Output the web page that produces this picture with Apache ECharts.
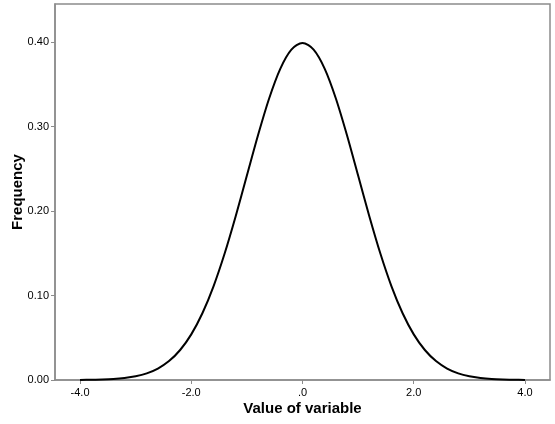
<!DOCTYPE html>
<html>
<head>
<meta charset="utf-8">
<script src="https://cdn.jsdelivr.net/npm/echarts@6/dist/echarts.min.js"></script>
<style>
html,body{margin:0;padding:0;background:#fff;}
#c{width:555px;height:424px;}
</style>
</head>
<body>
<div id="c"></div>
<script>
const xValues = [-4.0,-3.8,-3.6,-3.4,-3.2,-3.0,-2.8,-2.6,-2.4,-2.2,-2.0,-1.8,-1.6,-1.4,-1.2,-1.0,-0.8,-0.6,-0.4,-0.2,0.0,0.2,0.4,0.6,0.8,1.0,1.2,1.4,1.6,1.8,2.0,2.2,2.4,2.6,2.8,3.0,3.2,3.4,3.6,3.8,4.0];
const frequency = [0.0001,0.0003,0.0006,0.0012,0.0024,0.0044,0.0079,0.0136,0.0224,0.0355,0.0540,0.0790,0.1109,0.1497,0.1942,0.2420,0.2897,0.3332,0.3683,0.3910,0.3989,0.3910,0.3683,0.3332,0.2897,0.2420,0.1942,0.1497,0.1109,0.0790,0.0540,0.0355,0.0224,0.0136,0.0079,0.0044,0.0024,0.0012,0.0006,0.0003,0.0001];
const xTicks = [-4, -2, 0, 2, 4];
const xTickLabels = ['-4.0', '-2.0', '.0', '2.0', '4.0'];
const yTicks = [0, 0.1, 0.2, 0.3, 0.4];
const yTickLabels = ['0.00', '0.10', '0.20', '0.30', '0.40'];

const chart = echarts.init(document.getElementById('c'), null, {renderer: 'canvas'});
const axisColor = '#8c8c8c';
chart.setOption({
  animation: false,
  backgroundColor: '#ffffff',
  grid: {left: 55, right: 5, top: 4, bottom: 44, containLabel: false, outerBoundsMode: 'none',
    show: true, borderColor: axisColor, borderWidth: 1.5, backgroundColor: 'transparent'},
  xAxis: {
    type: 'value', min: -4.45, max: 4.45,
    name: 'Value of variable', nameLocation: 'middle', nameGap: 21, nameMoveOverlap: false,
    nameTextStyle: {fontFamily: 'Liberation Sans', fontWeight: 'bold', fontSize: 15, color: '#000'},
    axisLine: {show: true, onZero: false, lineStyle: {color: axisColor, width: 1.5}},
    axisTick: {show: true, length: 4, lineStyle: {color: axisColor, width: 1}, customValues: xTicks},
    axisLabel: {customValues: xTicks, margin: 7, fontFamily: 'Liberation Sans', fontSize: 11, color: '#000',
      formatter: v => { const i = xTicks.findIndex(t => Math.abs(t - v) < 1e-9); return i >= 0 ? xTickLabels[i] : ''; }},
    splitLine: {show: false}
  },
  yAxis: {
    type: 'value', min: 0, max: 0.445,
    name: 'Frequency', nameLocation: 'middle', nameGap: 30, nameMoveOverlap: false,
    nameTextStyle: {fontFamily: 'Liberation Sans', fontWeight: 'bold', fontSize: 15, color: '#000'},
    axisLine: {show: true, onZero: false, lineStyle: {color: axisColor, width: 1.5}},
    axisTick: {show: true, length: 4, lineStyle: {color: axisColor, width: 1}, customValues: yTicks},
    axisLabel: {customValues: yTicks, margin: 6, fontFamily: 'Liberation Sans', fontSize: 11, color: '#000',
      formatter: v => { const i = yTicks.findIndex(t => Math.abs(t - v) < 1e-9); return i >= 0 ? yTickLabels[i] : ''; }},
    splitLine: {show: false}
  },
  series: [{
    type: 'line',
    data: xValues.map((x, i) => [x, frequency[i]]),
    smooth: 0.3,
    showSymbol: false,
    lineStyle: {color: '#000', width: 2}
  }]
});
</script>
</body>
</html>
